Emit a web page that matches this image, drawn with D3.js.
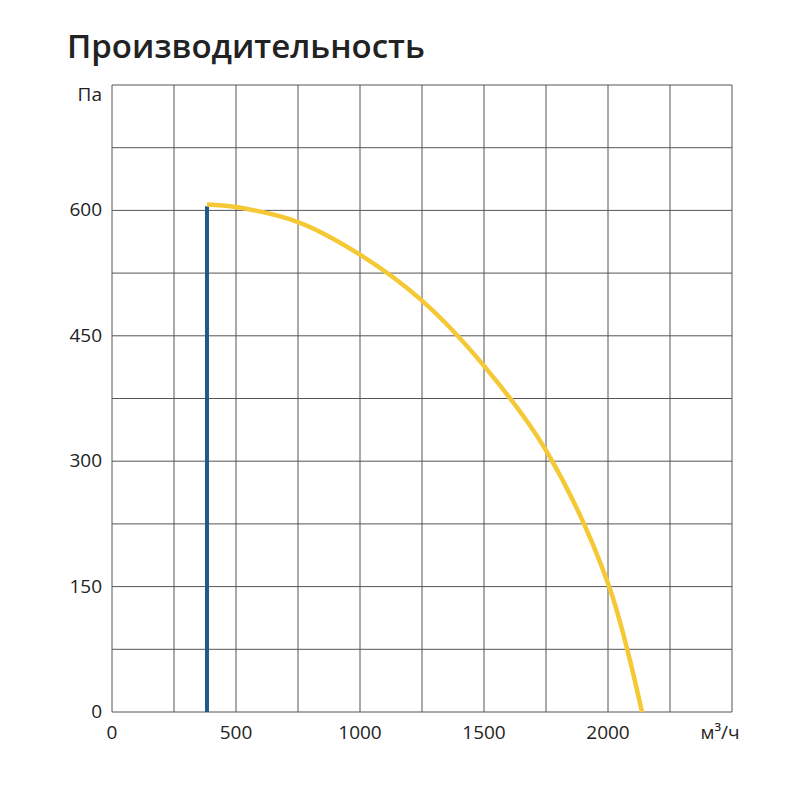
<!DOCTYPE html>
<html><head><meta charset="utf-8">
<script src="https://cdn.jsdelivr.net/npm/d3@7"></script>
<style>body{margin:0;background:#fff}</style>
</head><body>
<svg id="chart" width="800" height="800"></svg>
<script>
const xTicks = [0, 500, 1000, 1500, 2000];
const yTicks = [0, 150, 300, 450, 600];
const flow = [383, 500, 750, 1000, 1250, 1500, 1750, 2000, 2137];
const pressure = [607, 604, 586, 547, 492, 414, 313, 154, 0];
const minFlow = 383;
const minPressure = 605;

const svg = d3.select("#chart");
const font = "'Open Sans', 'Noto Sans', sans-serif";

const x = d3.scaleLinear().domain([0, 2500]).range([112, 732]);
const y = d3.scaleLinear().domain([0, 750]).range([712, 85]);

svg.append("text")
    .attr("x", 67).attr("y", 58)
    .attr("font-family", font).attr("font-size", 33).attr("font-weight", 600)
    .attr("fill", "#222")
    .text("Производительность");

const g = svg.append("g");

// сетка
g.selectAll(".vx")
    .data(d3.range(0, 2501, 250))
    .enter().append("line")
    .attr("x1", d => x(d)).attr("x2", d => x(d))
    .attr("y1", y(0)).attr("y2", y(750))
    .attr("stroke", "#555").attr("stroke-width", 1);

g.selectAll(".hy")
    .data(d3.range(0, 751, 75))
    .enter().append("line")
    .attr("x1", x(0)).attr("x2", x(2500))
    .attr("y1", d => y(d)).attr("y2", d => y(d))
    .attr("stroke", "#555").attr("stroke-width", 1);

g.selectAll(".xl")
    .data(xTicks)
    .enter().append("text")
    .attr("x", d => x(d)).attr("y", 739)
    .attr("text-anchor", "middle")
    .attr("font-family", font).attr("font-size", 19).attr("fill", "#222")
    .text(d => d);

g.selectAll(".yl")
    .data(yTicks)
    .enter().append("text")
    .attr("x", 102).attr("y", d => y(d) + 6)
    .attr("text-anchor", "end")
    .attr("font-family", font).attr("font-size", 19).attr("fill", "#222")
    .text(d => d);

g.append("text")
    .attr("x", 102).attr("y", 101)
    .attr("text-anchor", "end")
    .attr("font-family", font).attr("font-size", 19).attr("fill", "#222")
    .text("Па");

g.append("text")
    .attr("x", 720).attr("y", 739)
    .attr("text-anchor", "middle")
    .attr("font-family", font).attr("font-size", 19).attr("fill", "#222")
    .text("м³/ч");

g.append("line")
    .attr("x1", x(minFlow)).attr("x2", x(minFlow))
    .attr("y1", y(0)).attr("y2", y(minPressure))
    .attr("stroke", "#1f5a8c").attr("stroke-width", 4);

const line = d3.line()
    .x((d, i) => x(flow[i]))
    .y(d => y(d))
    .curve(d3.curveCatmullRom);

g.append("path")
    .attr("d", line(pressure))
    .attr("fill", "none")
    .attr("stroke", "#f4c935")
    .attr("stroke-width", 4.5);
</script>
</body></html>
